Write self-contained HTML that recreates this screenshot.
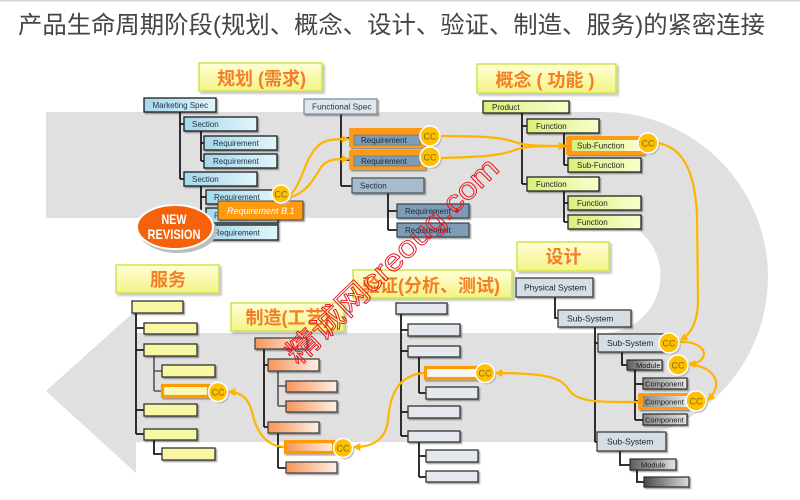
<!DOCTYPE html>
<html><head><meta charset="utf-8"><style>
html,body{margin:0;padding:0;background:#fff;width:800px;height:500px;overflow:hidden}
svg{display:block}
text{font-family:"Liberation Sans","Noto Sans CJK SC",sans-serif}
</style></head><body>
<svg width="800" height="500" viewBox="0 0 800 500" xmlns="http://www.w3.org/2000/svg">
<defs>
<linearGradient id="gL" x1="0" y1="0" x2="0" y2="1"><stop offset="0" stop-color="#ffffd6"/><stop offset="1" stop-color="#f3f386"/></linearGradient>
<linearGradient id="gB" x1="0" y1="0" x2="1" y2="0"><stop offset="0" stop-color="#a4d8ea"/><stop offset="1" stop-color="#e2f5fb"/></linearGradient>
<linearGradient id="gG" x1="0" y1="0" x2="1" y2="0"><stop offset="0" stop-color="#d9f07c"/><stop offset="1" stop-color="#f8ffcc"/></linearGradient>
<linearGradient id="gO" x1="0" y1="0" x2="1" y2="0"><stop offset="0" stop-color="#f7955a"/><stop offset="1" stop-color="#fff0e6"/></linearGradient>
<linearGradient id="gM" x1="0" y1="0" x2="1" y2="0"><stop offset="0" stop-color="#5c5c5c"/><stop offset="1" stop-color="#e4e4e4"/></linearGradient>
<linearGradient id="gC" x1="0" y1="0" x2="1" y2="0"><stop offset="0" stop-color="#8a8a8a"/><stop offset="1" stop-color="#e6e6e6"/></linearGradient>
<linearGradient id="gD" x1="0" y1="0" x2="1" y2="0"><stop offset="0" stop-color="#4a4a4a"/><stop offset="1" stop-color="#dcdcdc"/></linearGradient>
<filter id="sh" x="-10%" y="-20%" width="130%" height="160%"><feDropShadow dx="1.5" dy="1.5" stdDeviation="0.6" flood-color="#000" flood-opacity="0.35"/></filter>
<filter id="ls" x="-10%" y="-20%" width="130%" height="160%"><feDropShadow dx="2" dy="2" stdDeviation="1" flood-color="#000" flood-opacity="0.25"/></filter>
<marker id="ah" viewBox="0 0 10 10" refX="8" refY="5" markerWidth="8" markerHeight="8" markerUnits="userSpaceOnUse" orient="auto"><path d="M0,0 L10,5 L0,10 z" fill="#ffb400"/></marker>
</defs>
<rect x="0" y="0" width="800" height="500" fill="#fff"/>
<rect x="0" y="0" width="800" height="1.5" fill="#d4d4d4"/>
<text x="18" y="33" font-size="24" fill="#454545" textLength="747" lengthAdjust="spacingAndGlyphs">产品生命周期阶段(规划、概念、设计、验证、制造、服务)的紧密连接</text>

<!-- gray band -->
<path d="M46,112 H603 A165,165 0 0 1 603,442 H136 V473 L46,391 L136,310 V333 H603 A57.5,57.5 0 0 0 603,218 H46 Z" fill="#e0e0e0"/>

<!-- stage labels -->
<g filter="url(#ls)" stroke="#cfe34e" stroke-width="1.5" fill="url(#gL)">
<rect x="199" y="63" width="123" height="28"/>
<rect x="477" y="64" width="139" height="29"/>
<rect x="517" y="242" width="92" height="29"/>
<rect x="116" y="265" width="103" height="28"/>
<rect x="353" y="270" width="159" height="28"/>
<rect x="231" y="303" width="113" height="28"/>
</g>
<g font-weight="bold" font-size="18" fill="#f47d26" text-anchor="middle">
<text x="261.5" y="85">规划 (需求)</text>
<text x="545" y="86.5">概念 ( 功能 )</text>
<text x="563.5" y="263">设计</text>
<text x="168" y="286">服务</text>
<text x="431" y="292">验证(分析、测试)</text>
<text x="287.5" y="324">制造(工艺)</text>
</g>

<!-- tree lines -->
<g stroke="#1a1a1a" stroke-width="1.8" fill="none">
<!-- marketing -->
<path d="M180,112 V179 M180,124 H184 M180,179 H184 M201,131 V161 M201,143 H204 M201,161 H204 M201,186 V233 M201,197 H206 M201,215 H206 M201,232 H206"/>
<!-- functional -->
<path d="M341,114 V186 M341,138 H349 M341,160 H349 M341,186 H352 M388,193 V230 M388,211 H397 M388,230 H397"/>
<!-- product -->
<path d="M522,113 V184 M522,126 H527 M522,184 H527 M564,133 V165 M564,146 H568 M564,165 H568 M564,191 V222 M564,203 H568 M564,222 H568"/>
<!-- design -->
<path d="M555,297 V318 H558 M595,327 V442 M595,343 H598 M595,442 H597 M622,352 V365 H627 M635,370 V420 M635,384 H643 M635,401 H643 M635,420 H643 M620,451 V465 H630 M637,470 V482 H644"/>
<!-- verify -->
<path d="M401,314 V436 M401,330 H408 M401,351 H408 M401,412 H408 M401,436 H408 M419,357 V393 M419,373 H424 M419,393 H426 M419,442 V477 M419,456 H426 M419,477 H426"/>
<!-- manufacture -->
<path d="M264,349 V427 M264,365 H268 M264,427 H268 M278,433 V468 M278,447 H284 M278,468 H286"/>
<!-- service -->
<path d="M136,313 V434 M136,328 H144 M136,350 H144 M136,410 H144 M136,434 H144 M154,440 V454 H162"/>
</g>
<g stroke="#555" stroke-width="1.6" fill="none">
<path d="M278,371 V406 M278,386 H286 M278,406 H286"/>
<path d="M154,356 V391 M154,371 H162 M154,391 H161"/>
</g>

<!-- marketing boxes -->
<g filter="url(#sh)" fill="url(#gB)" stroke="#1a1a1a" stroke-width="1.3">
<rect x="144" y="98" width="72" height="14"/>
<rect x="184" y="117" width="73" height="14"/>
<rect x="204" y="136" width="73" height="14"/>
<rect x="204" y="154" width="73" height="14"/>
<rect x="184" y="172" width="73" height="14"/>
<rect x="206" y="190" width="72" height="14"/>
<rect x="206" y="208" width="72" height="15"/>
<rect x="206" y="225" width="72" height="15"/>
</g>
<g font-size="8" fill="#1e2e44">
<text x="152.5" y="108">Marketing Spec</text>
<text x="192" y="127">Section</text>
<text x="213" y="146">Requirement</text>
<text x="213" y="164">Requirement</text>
<text x="192" y="182">Section</text>
<text x="214" y="200">Requirement</text>
<text x="214" y="218.5">Requirement</text>
<text x="214" y="235.5">Requirement</text>
</g>
<rect x="218" y="201" width="85" height="19" fill="#ff9b0f" stroke="#5a4a3a" stroke-width="1" filter="url(#sh)"/>
<text x="227" y="214" font-size="9" font-style="italic" fill="#fff">Requirement B.1</text>

<!-- NEW REVISION -->
<ellipse cx="178" cy="231" rx="39" ry="22" fill="#bdbdbd"/>
<ellipse cx="175" cy="227" rx="38" ry="22" fill="#f5620a" stroke="#fff" stroke-width="2"/>
<g font-size="14" font-weight="bold" fill="#fff" text-anchor="middle">
<text x="174" y="224" textLength="25" lengthAdjust="spacingAndGlyphs">NEW</text>
<text x="174" y="239" textLength="53" lengthAdjust="spacingAndGlyphs">REVISION</text>
</g>

<!-- functional spec -->
<rect x="304" y="99" width="73" height="15" fill="#dfe6ed" stroke="#7f8c99" stroke-width="1.3" filter="url(#sh)"/>
<text x="312" y="109.5" font-size="8.3" fill="#2a3442">Functional Spec</text>
<rect x="349" y="128" width="77" height="20" rx="2" fill="#ff9a12" filter="url(#sh)"/>
<rect x="354" y="135" width="66" height="10" fill="#7f9cb6" stroke="#5a6e80" stroke-width="0.6"/>
<rect x="349" y="150" width="77" height="20" rx="2" fill="#ff9a12" filter="url(#sh)"/>
<rect x="354" y="156" width="66" height="10" fill="#7f9cb6" stroke="#5a6e80" stroke-width="0.6"/>
<g filter="url(#sh)" stroke-width="1.3">
<rect x="352" y="178" width="72" height="15" fill="#a8bccd" stroke="#4a5866"/>
<rect x="397" y="204" width="72" height="14" fill="#7f9cb6" stroke="#3a4a5a"/>
<rect x="397" y="223" width="72" height="14" fill="#7f9cb6" stroke="#3a4a5a"/>
</g>
<g font-size="8" fill="#1a2636">
<text x="361" y="143">Requirement</text>
<text x="361" y="164">Requirement</text>
<text x="360" y="188.5">Section</text>
<text x="405" y="214">Requirement</text>
<text x="405" y="233">Requirement</text>
</g>
<circle cx="457" cy="211" r="1.8" fill="#e00"/>

<!-- product tree -->
<g filter="url(#sh)" fill="url(#gG)" stroke="#222" stroke-width="1.3">
<rect x="483" y="101" width="86" height="12"/>
<rect x="527" y="119" width="72" height="14"/>
<rect x="568" y="158" width="73" height="14"/>
<rect x="527" y="177" width="72" height="14"/>
<rect x="568" y="196" width="73" height="14"/>
<rect x="568" y="215" width="73" height="14"/>
</g>
<rect x="566" y="136" width="79" height="19" rx="2" fill="#ff9a12" filter="url(#sh)"/>
<rect x="572" y="140" width="68" height="11" fill="url(#gG)"/>
<g font-size="8" fill="#222">
<text x="492" y="110">Product</text>
<text x="536" y="129">Function</text>
<text x="577" y="148.5">Sub-Function</text>
<text x="577" y="168">Sub-Function</text>
<text x="536" y="187">Function</text>
<text x="577" y="206">Function</text>
<text x="577" y="225">Function</text>
</g>

<!-- design tree -->
<g filter="url(#sh)" fill="#d5dde5" stroke="#3a3a3a" stroke-width="1.3">
<rect x="516" y="278" width="77" height="19"/>
<rect x="558" y="310" width="73" height="17"/>
<rect x="598" y="334" width="68" height="18"/>
<rect x="597" y="432" width="69" height="19"/>
</g>
<g filter="url(#sh)" stroke="#2a2a2a" stroke-width="1.2">
<rect x="627" y="360" width="35" height="10" fill="url(#gM)"/>
<rect x="643" y="378" width="44" height="11" fill="url(#gC)"/>
<rect x="643" y="414" width="44" height="11" fill="url(#gC)"/>
<rect x="630" y="459" width="46" height="11" fill="url(#gM)"/>
<rect x="644" y="477" width="45" height="10" fill="url(#gD)"/>
</g>
<rect x="638" y="393" width="51" height="17" rx="2" fill="#ff9a12" filter="url(#sh)"/>
<rect x="643" y="396" width="44" height="11" fill="url(#gC)"/>
<g font-size="8.5" fill="#222">
<text x="524" y="290.5">Physical System</text>
<text x="567" y="321.5">Sub-System</text>
<text x="607" y="346">Sub-System</text>
<text x="607" y="444.5">Sub-System</text>
</g>
<g font-size="7.5" fill="#1a1a1a">
<text x="636" y="368">Module</text>
<text x="645" y="386.5">Component</text>
<text x="645" y="404.5">Component</text>
<text x="645" y="422.5">Component</text>
<text x="641" y="467.5">Module</text>
<text x="660" y="485" font-size="4">.....</text>
</g>

<!-- verify tree -->
<g filter="url(#sh)" fill="#e4e8ee" stroke="#333" stroke-width="1.3">
<rect x="396" y="303" width="51" height="11"/>
<rect x="408" y="324" width="52" height="12"/>
<rect x="408" y="346" width="52" height="11"/>
<rect x="426" y="387" width="52" height="12"/>
<rect x="408" y="406" width="52" height="12"/>
<rect x="408" y="431" width="52" height="11"/>
<rect x="426" y="450" width="52" height="12"/>
<rect x="426" y="471" width="52" height="11"/>
</g>
<rect x="425.5" y="367.5" width="52" height="11" fill="#f6f7f9" stroke="#ff9a00" stroke-width="3.2" filter="url(#sh)"/>

<!-- manufacture tree -->
<g filter="url(#sh)" fill="url(#gO)" stroke="#444" stroke-width="1.3">
<rect x="255" y="338" width="52" height="11"/>
<rect x="268" y="359" width="51" height="12"/>
<rect x="286" y="381" width="51" height="11"/>
<rect x="286" y="401" width="51" height="11"/>
<rect x="268" y="422" width="51" height="11"/>
<rect x="286" y="462" width="51" height="11"/>
</g>
<rect x="285.5" y="441.5" width="48" height="11" fill="url(#gO)" stroke="#ff9a00" stroke-width="3.2" filter="url(#sh)"/>

<!-- service tree -->
<g filter="url(#sh)" fill="#f8f8a4" stroke="#333" stroke-width="1.3">
<rect x="132" y="301" width="51" height="12"/>
<rect x="144" y="323" width="53" height="11"/>
<rect x="144" y="344" width="53" height="12"/>
<rect x="162" y="365" width="53" height="12"/>
<rect x="144" y="404" width="53" height="12"/>
<rect x="144" y="429" width="53" height="11"/>
<rect x="162" y="448" width="53" height="12"/>
</g>
<rect x="162.5" y="385.5" width="46" height="11" fill="#fafab8" stroke="#ff9a00" stroke-width="3.2" filter="url(#sh)"/>

<!-- connectors -->
<g fill="none" stroke="#ffb400" stroke-width="2.2" marker-end="url(#ah)">
<path d="M288,196 C302,188 303,160 318,146 C325,139 335,139 348,139"/>
<path d="M288,198 C310,192 315,175 322,166 C328,159 336,159 348,159"/>
<path d="M440,136 C480,136 500,137 515,142 C525,146 540,146 565,146"/>
<path d="M440,158 C480,157 500,156 515,150 C525,146 540,146 565,146"/>
<path d="M658,143 C685,148 695,175 697,215 L698,300 C698,320 692,333 681,340"/>
<path d="M679,342 C700,341 709,352 701,360 C698,363 694,364 689,364"/>
<path d="M688,364 C712,366 726,382 708,400"/>
<path d="M638,402 C602,402 578,403 569,390 C562,378 548,373 496,373"/>
<path d="M424,373 C398,375 390,395 388,420 C386,440 372,447 354,447"/>
<path d="M284,447 C265,446 256,430 252,412 C249,400 242,392 229,392"/>
</g>

<!-- CC circles -->
<g fill="#b5b5b5" opacity="0.75">
<circle cx="283" cy="196" r="9"/>
<circle cx="432" cy="138" r="10"/>
<circle cx="432" cy="159" r="10"/>
<circle cx="650" cy="145" r="10"/>
<circle cx="671" cy="345" r="10"/>
<circle cx="680" cy="367" r="10"/>
<circle cx="698" cy="403" r="10"/>
<circle cx="487" cy="375" r="9.5"/>
<circle cx="345" cy="450" r="9.5"/>
<circle cx="220" cy="394" r="9.5"/>
</g>
<g fill="#ffc000" stroke="#fff" stroke-width="1.5">
<circle cx="281" cy="194" r="9"/>
<circle cx="430" cy="136" r="10"/>
<circle cx="430" cy="157" r="10"/>
<circle cx="648" cy="143" r="10"/>
<circle cx="669" cy="343" r="10"/>
<circle cx="678" cy="365" r="10"/>
<circle cx="696" cy="401" r="10"/>
<circle cx="485" cy="373" r="9.5"/>
<circle cx="343" cy="448" r="9.5"/>
<circle cx="218" cy="392" r="9.5"/>
</g>
<g font-size="9" fill="#8a6b10" text-anchor="middle">
<text x="281" y="197.5">CC</text>
<text x="430" y="139.5">CC</text>
<text x="430" y="160.5">CC</text>
<text x="648" y="146.5">CC</text>
<text x="669" y="346.5">CC</text>
<text x="678" y="368.5">CC</text>
<text x="696" y="404.5">CC</text>
<text x="485" y="376.5">CC</text>
<text x="343" y="451.5">CC</text>
<text x="218" y="395.5">CC</text>
</g>

<!-- watermark -->
<text x="0" y="0" transform="translate(298,366) rotate(-44)" font-size="30" fill="none" stroke="#e8141c" stroke-width="0.9" textLength="282" lengthAdjust="spacingAndGlyphs">精诚网creoug.com</text>
</svg>
</body></html>
